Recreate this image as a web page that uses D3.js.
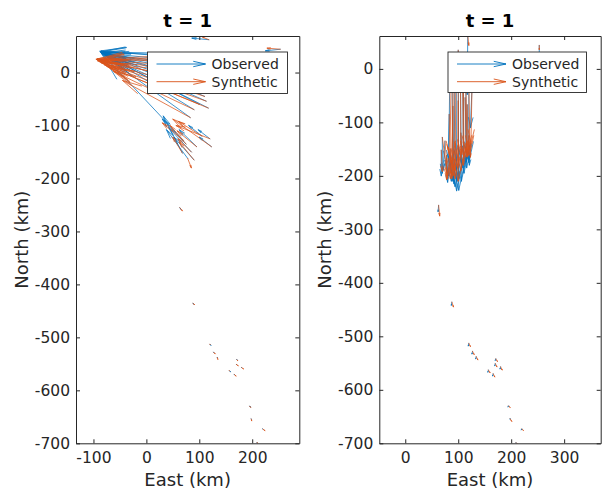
<!DOCTYPE html>
<html><head><meta charset="utf-8">
<script src="https://cdn.jsdelivr.net/npm/d3@7"></script>
<style>body{margin:0;background:#fff}svg{display:block}</style>
</head><body>
<svg id="c" width="602" height="490"></svg>
<script>
// Station positions (km)
const stationEast  = [84,88,92,96,100,104,108,114,120,126,113,117,110,100,90,83,70,75,85,95,105,123,120,90,78,68,118,253,
                      63,88,120,127,134,171,170,180,157,166,195,198,220,209];
const stationNorth = [-15,5,20,30,35,25,10,-5,-20,-35,-54,-67,-45,-60,-70,-85,-128,-135,-150,-140,-120,-140,-125,-165,-162,-152,62,44,
                      -255,-436,-513,-528,-538,-542,-551,-557,-563,-570,-630,-654,-673,-699];
// Left panel vectors (km)
const obsLeftE = [-172,-174,-177,-180,-187,-190,-190,-194,-204,-204,-188,-187,-192,-180,-168,-168,-156,-45,-43,-33,-25,-23,-22,-38,-40,-36,-32,-28,
                  2,1.5,2,0.5,0.5,0.5,0.5,0.5,2,0.5,2,0.5,0.5,0.5];
const obsLeftN = [55,33,17,9,4,16,26,40,58,68,84,95,82,94,103,121,166,47,46,32,20,18,17,43,54,70,3,-3,
                  -3,-1,-2,-0.5,-0.5,-0.5,-0.5,-0.5,-2,-0.5,-1.5,-0.5,-0.5,0];
const synLeftE = [-179,-180,-185,-186,-194,-195,-201,-202,-210,-211,-193,-192,-196,-170,-152,-128,-40,-30,-25,-37,-45,-73,-64,-28,7,-18,-12,-25,
                  5,3,0.5,3,1,1.5,3.5,3.5,0.5,3.5,2,1,4,2];
const synLeftN = [40,17,6,-6,-10,-2,14,25,42,53,69,79,65,70,72,70,33,35,25,30,28,52,25,34,-18,30,5,2,
                  -6,-2,-0.5,-3,-3.5,-2,-2.5,-2.5,-0.5,-3,-2,-3.5,-3,-1];
// Right panel vectors (km)
const obsRightE = [-2,2,2,1,1,2,3,2,0,-3,2,0,-1,1,2,-3,0,-4,2,3,2,-2,0,0,2,0,-1,0,
                   -1,-1,-1,-1,-1,-1,-1,-1,-1,-1,-1,0,-1,0];
const obsRightN = [-185,-210,-240,-258,-262,-235,-205,-180,-155,-75,-120,-100,-140,-145,-145,-115,-67,-55,-60,-70,-60,-40,-45,-45,-50,-48,-110,-25,
                   -12,-6,-5,-5,-4,-3,-4,-4,-4,-4,-2,-1,-2,-1];
const synRightE = [3,2,0,-2,0,1,2,3,2,-2,3,2,1,-1,-2,2,10,5,0,-2,2,0,-1,-2,0,2,2,0,
                   2,3,3,3,3,3,3,3,3,3,3,3,3,3];
const synRightN = [-160,-195,-220,-235,-245,-215,-190,-160,-140,-105,-110,-95,-120,-125,-130,-110,-77,-65,-55,-50,-40,-25,-30,-40,-45,-40,-18,-8,
                   -20,-9,-6,-6,-6,-5,-6,-6,-5,-6,-3,-5,-3,-2];
// Axis limits and ticks
const xLimLeft = [-133, 289], xLimRight = [-49, 369];
const yLimLeft = [-700, 69], yLimRight = [-700, 61.5];
const xTicksLeft = [-100, 0, 100, 200];
const xTicksRight = [0, 100, 200, 300];
const yTicks = [-700, -600, -500, -400, -300, -200, -100, 0];
const panelTitles = ["t = 1", "t = 1"];
const legendLabels = ["Observed", "Synthetic"];
const colors = ["#0072BD", "#D95319"];

const FONT = "DejaVu Sans, Verdana, sans-serif";
const AX = "#262626";
const svg = d3.select("#c");
const defs = svg.append("defs");

function arrowPath(bx, by, tx, ty, alpha, beta) {
  const du = tx - bx, dv = ty - by;
  const h1x = tx - alpha * (du + beta * dv), h1y = ty - alpha * (dv - beta * du);
  const h2x = tx - alpha * (du - beta * dv), h2y = ty - alpha * (dv + beta * du);
  return `M${bx},${by}L${tx},${ty}M${h1x},${h1y}L${tx},${ty}L${h2x},${h2y}`;
}

function drawArrows(g, x, y, U, V, color) {
  const idx = d3.range(stationEast.length);
  g.append("g").selectAll("path").data(idx).join("path")
    .attr("d", i => arrowPath(x(stationEast[i]), y(stationNorth[i]),
                              x(stationEast[i] + U[i]), y(stationNorth[i] + V[i]), 0.25, 0.22))
    .attr("fill", "none").attr("stroke", color).attr("stroke-width", 0.75)
    .attr("stroke-linecap", "round").attr("stroke-linejoin", "round");
}

function panel(cfg, k) {
  const g = svg.append("g");
  const x = d3.scaleLinear().domain(cfg.xLim).range([cfg.left, cfg.right]);
  const y = d3.scaleLinear().domain(cfg.yLim).range([cfg.bottom, cfg.top]);
  defs.append("clipPath").attr("id", "clip" + k).append("rect")
    .attr("x", cfg.left).attr("y", cfg.top)
    .attr("width", cfg.right - cfg.left).attr("height", cfg.bottom - cfg.top);
  const plot = g.append("g").attr("clip-path", `url(#clip${k})`);
  drawArrows(plot, x, y, cfg.obsE, cfg.obsN, colors[0]);
  drawArrows(plot, x, y, cfg.synE, cfg.synN, colors[1]);

  const style = a => {
    a.attr("font-family", FONT).attr("font-size", 15.5);
    a.select(".domain").attr("stroke", AX).attr("stroke-width", 1);
    a.selectAll(".tick line").attr("stroke", AX).attr("stroke-width", 1);
    a.selectAll(".tick text").attr("fill", AX);
  };
  g.append("g").attr("transform", `translate(0,${cfg.bottom})`)
    .call(d3.axisBottom(x).tickValues(cfg.xTicks).tickSizeInner(-4).tickSizeOuter(0).tickPadding(9)).call(style);
  g.append("g").attr("transform", `translate(0,${cfg.top})`)
    .call(d3.axisTop(x).tickValues(cfg.xTicks).tickSizeInner(-4).tickSizeOuter(0).tickFormat("")).call(style);
  g.append("g").attr("transform", `translate(${cfg.left},0)`)
    .call(d3.axisLeft(y).tickValues(yTicks).tickSizeInner(-4).tickSizeOuter(0).tickPadding(6)).call(style);
  g.append("g").attr("transform", `translate(${cfg.right},0)`)
    .call(d3.axisRight(y).tickValues(yTicks).tickSizeInner(-4).tickSizeOuter(0).tickFormat("")).call(style);
  g.selectAll(".tick text").text(function(d){ return d3.select(this).text().replace("−", "-"); });

  // title
  g.append("text").attr("x", (cfg.left + cfg.right) / 2).attr("y", 26.5)
    .attr("text-anchor", "middle").attr("font-family", FONT).attr("font-size", 18)
    .attr("font-weight", "bold").attr("fill", "#000").text(cfg.title);
  // axis labels
  g.append("text").attr("x", (cfg.left + cfg.right) / 2).attr("y", 486)
    .attr("text-anchor", "middle").attr("font-family", FONT).attr("font-size", 18)
    .attr("fill", AX).text("East (km)");
  g.append("text").attr("transform", `translate(${cfg.left - 48},${(cfg.top + cfg.bottom) / 2}) rotate(-90)`)
    .attr("text-anchor", "middle").attr("font-family", FONT).attr("font-size", 18)
    .attr("fill", AX).text("North (km)");

  // legend
  const L = cfg.legend;
  const lg = g.append("g");
  lg.append("rect").attr("x", L.x).attr("y", L.y).attr("width", L.w).attr("height", L.h)
    .attr("fill", "#fff").attr("stroke", AX).attr("stroke-width", 0.9);
  legendLabels.forEach((lab, j) => {
    const yy = L.y + 12 + j * 17.7;
    lg.append("path").attr("d", arrowPath(L.x + 9, yy, L.x + 58, yy, 0.25, 0.22))
      .attr("fill", "none").attr("stroke", colors[j]).attr("stroke-width", 0.9);
    lg.append("text").attr("x", L.x + 64).attr("y", yy).attr("dy", "0.35em")
      .attr("font-family", FONT).attr("font-size", 14).attr("fill", AX).text(lab);
  });
}

panel({left: 76, right: 299.3, top: 36, bottom: 443.3, xLim: xLimLeft, yLim: yLimLeft,
       xTicks: xTicksLeft, title: panelTitles[0],
       obsE: obsLeftE, obsN: obsLeftN, synE: synLeftE, synN: synLeftN,
       legend: {x: 147.5, y: 52, w: 140, h: 41.5}}, 0);
panel({left: 379.3, right: 600.7, top: 36, bottom: 443.3, xLim: xLimRight, yLim: yLimRight,
       xTicks: xTicksRight, title: panelTitles[1],
       obsE: obsRightE, obsN: obsRightN, synE: synRightE, synN: synRightN,
       legend: {x: 448, y: 52, w: 138.5, h: 40.5}}, 1);
</script>
</body></html>
